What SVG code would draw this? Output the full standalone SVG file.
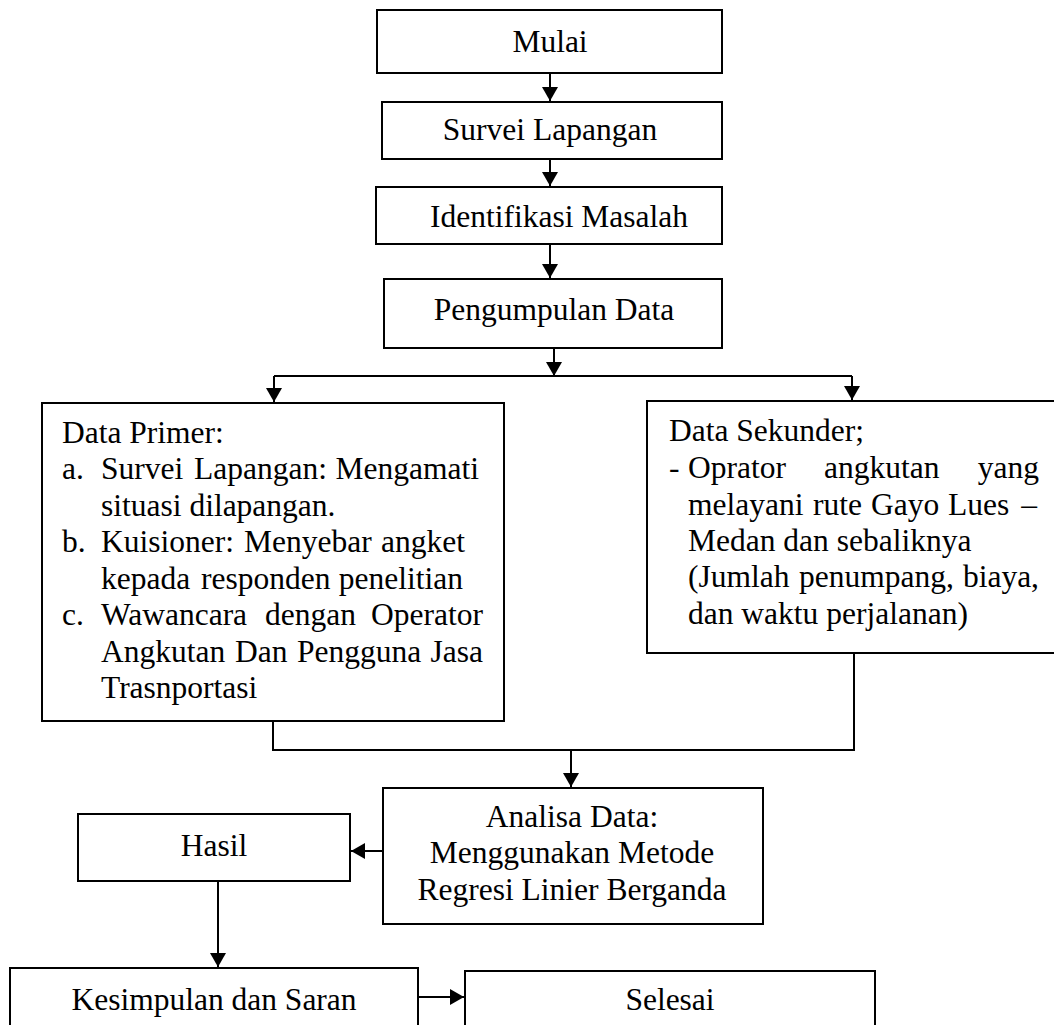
<svg xmlns="http://www.w3.org/2000/svg" width="1054" height="1025" viewBox="0 0 1054 1025">
<style>
.box{fill:#fff;stroke:#000;stroke-width:2}
.t{font-family:"Liberation Serif","Times New Roman",serif;font-size:31.5px;fill:#000}
.c{text-anchor:middle}
.e{text-anchor:end}
.ln{fill:none;stroke:#000;stroke-width:2}
</style>
<defs>
<marker id="ah" markerUnits="userSpaceOnUse" markerWidth="15" markerHeight="16" refX="14" refY="8" orient="auto">
<path d="M0,0 L14,8 L0,16 Z" fill="#000"/>
</marker>
</defs>
<rect width="1054" height="1025" fill="#fff"/>
<g id="connectors">
<path class="ln" d="M550,73 V101" marker-end="url(#ah)"/>
<path class="ln" d="M550,159 V186" marker-end="url(#ah)"/>
<path class="ln" d="M550,244 V278" marker-end="url(#ah)"/>
<path class="ln" d="M554,348 V376" marker-end="url(#ah)"/>
<path class="ln" d="M274,376 H852"/>
<path class="ln" d="M274,376 V402" marker-end="url(#ah)"/>
<path class="ln" d="M852,376 V400" marker-end="url(#ah)"/>
<path class="ln" d="M273,721 V750 H854 V653"/>
<path class="ln" d="M571,750 V787" marker-end="url(#ah)"/>
<path class="ln" d="M383,851 H351" marker-end="url(#ah)"/>
<path class="ln" d="M218,881 V967" marker-end="url(#ah)"/>
<path class="ln" d="M418,997 H464" marker-end="url(#ah)"/>
</g>
<g id="mulai">
<rect class="box" x="377" y="10" width="345" height="63"/>
<text class="t c" x="550" y="52">Mulai</text>
</g>
<g id="survei">
<rect class="box" x="382" y="102" width="340" height="57"/>
<text class="t c" x="550" y="140">Survei Lapangan</text>
</g>
<g id="identifikasi">
<rect class="box" x="376" y="187" width="346" height="57"/>
<text class="t c" x="559" y="227">Identifikasi Masalah</text>
</g>
<g id="pengumpulan">
<rect class="box" x="384" y="279" width="338" height="69"/>
<text class="t c" x="554" y="320">Pengumpulan Data</text>
</g>
<g id="data-primer">
<rect class="box" x="42" y="403" width="462" height="318"/>
<text class="t" x="62" y="443">Data Primer:</text>
<text class="t" x="62" y="479">a.</text>
<text class="t" x="101" y="479">Survei</text>
<text class="t" x="194" y="479">Lapangan:</text>
<text class="t e" x="479" y="479">Mengamati</text>
<text class="t" x="101" y="516">situasi dilapangan.</text>
<text class="t" x="62" y="552">b.</text>
<text class="t" x="101" y="552">Kuisioner:</text>
<text class="t" x="244" y="552">Menyebar</text>
<text class="t e" x="465" y="552">angket</text>
<text class="t" x="101" y="589">kepada</text>
<text class="t" x="201" y="589">responden</text>
<text class="t e" x="463" y="589">penelitian</text>
<text class="t" x="62" y="625">c.</text>
<text class="t" x="101" y="625">Wawancara</text>
<text class="t" x="265" y="625">dengan</text>
<text class="t e" x="483" y="625">Operator</text>
<text class="t" x="101" y="662">Angkutan</text>
<text class="t" x="235" y="662">Dan</text>
<text class="t" x="297" y="662">Pengguna</text>
<text class="t e" x="483" y="662">Jasa</text>
<text class="t" x="101" y="698">Trasnportasi</text>
</g>
<g id="data-sekunder">
<rect class="box" x="647" y="401" width="420" height="252"/>
<text class="t" x="669" y="441">Data Sekunder;</text>
<text class="t" x="669" y="478">-</text>
<text class="t" x="688" y="478">Oprator</text>
<text class="t" x="824" y="478">angkutan</text>
<text class="t e" x="1039" y="478">yang</text>
<text class="t" x="688" y="515">melayani</text>
<text class="t" x="813" y="515">rute</text>
<text class="t" x="871" y="515">Gayo</text>
<text class="t" x="948" y="515">Lues</text>
<text class="t e" x="1037" y="515">–</text>
<text class="t" x="688" y="551">Medan dan sebaliknya</text>
<text class="t" x="688" y="587">(Jumlah</text>
<text class="t" x="799" y="587">penumpang,</text>
<text class="t e" x="1039" y="587">biaya,</text>
<text class="t" x="688" y="624">dan waktu perjalanan)</text>
</g>
<g id="analisa">
<rect class="box" x="383" y="788" width="380" height="136"/>
<text class="t c" x="572" y="827">Analisa Data:</text>
<text class="t c" x="572" y="863">Menggunakan Metode</text>
<text class="t c" x="572" y="900">Regresi Linier Berganda</text>
</g>
<g id="hasil">
<rect class="box" x="78" y="814" width="272" height="67"/>
<text class="t c" x="214" y="856">Hasil</text>
</g>
<g id="kesimpulan">
<rect class="box" x="10" y="968" width="408" height="80"/>
<text class="t c" x="214" y="1010">Kesimpulan dan Saran</text>
</g>
<g id="selesai">
<rect class="box" x="465" y="971" width="410" height="80"/>
<text class="t c" x="670" y="1010">Selesai</text>
</g>
</svg>
